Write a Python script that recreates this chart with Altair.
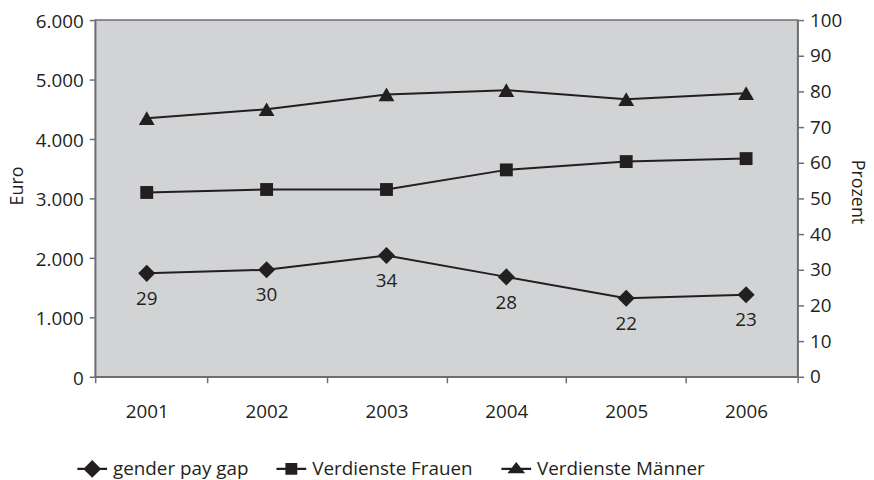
import altair as alt
import pandas as pd

# ---- data ----
years = [2001, 2002, 2003, 2004, 2005, 2006]
gap_pct = [29, 30, 34, 28, 22, 23]                     # gender pay gap, Prozent (right axis)
frauen = [3100, 3150, 3150, 3480, 3620, 3670]          # Verdienste Frauen, Euro
maenner = [4350, 4500, 4750, 4820, 4670, 4770]         # Verdienste Männer, Euro
series_names = ["gender pay gap", "Verdienste Frauen", "Verdienste Männer"]
euro_ticks = [0, 1000, 2000, 3000, 4000, 5000, 6000]
pct_ticks = [0, 10, 20, 30, 40, 50, 60, 70, 80, 90, 100]
x_domain = [2000.57, 2006.43]
x_tick_marks = [2000.57, 2001.5, 2002.5, 2003.5, 2004.5, 2005.5, 2006.43]

df = pd.DataFrame({
    "year": years * 3,
    "series": [s for s in series_names for _ in years],
    "value": gap_pct + frauen + maenner,
})

INK = "#231f20"
AX = "#6d6e71"
FONT = "Open Sans"
FS = 19
TFS = 18

# legend symbols: a short bar (the line) with the marker on it
BAR = "M-1,-0.07L1,-0.07L1,0.07L-1,0.07Z"
legend_paths = [
    BAR + "M0,-0.6L0.6,0L0,0.6L-0.6,0Z",
    BAR + "M-0.4,-0.4L0.4,-0.4L0.4,0.4L-0.4,0.4Z",
    BAR + "M0,-0.47L0.6,0.3L-0.6,0.3Z",
]

xscale = alt.Scale(domain=x_domain, nice=False, zero=False)
X_main = alt.X("year:Q", scale=xscale, axis=alt.Axis(
    orient="bottom", values=years, format="d", ticks=False, labelPadding=26, grid=False,
    title=None, domainColor=AX, domainWidth=1.5, labelFontSize=FS, labelColor=INK,
    labelFont=FONT))
X_none = alt.X("year:Q", scale=xscale, axis=None)
X_ticks = alt.X("year:Q", scale=xscale, axis=alt.Axis(
    orient="bottom", values=x_tick_marks, labels=False, domain=False, ticks=True,
    tickSize=6, tickColor=AX, tickWidth=1.5, grid=False, title=None))

Y_euro = alt.Y("value:Q", scale=alt.Scale(domain=[0, 6000], nice=False), axis=alt.Axis(
    values=euro_ticks, labelExpr="replace(format(datum.value, ','), ',', '.')",
    title="Euro", titleFontWeight="normal", titleFontSize=TFS, titleFont=FONT, titleColor=INK,
    titlePadding=9, titleY=167, labelFontSize=FS, labelFont=FONT, labelColor=INK,
    labelPadding=6, labelOffset=1.5, tickSize=6, tickColor=AX, tickWidth=1.5,
    domainColor=AX, domainWidth=1.5, grid=False))
Y_pct = alt.Y("value:Q", scale=alt.Scale(domain=[0, 100], nice=False), axis=alt.Axis(
    orient="right", values=pct_ticks,
    title="Prozent", titleFontWeight="normal", titleFontSize=TFS, titleFont=FONT,
    titleColor=INK, titlePadding=6, titleY=173, labelFontSize=FS, labelFont=FONT,
    labelColor=INK, labelPadding=6, tickSize=6, tickColor=AX, tickWidth=1.5,
    domainColor=AX, domainWidth=1.5, grid=False))

base = alt.Chart(df)

euro_data = base.transform_filter(
    alt.FieldOneOfPredicate(field="series", oneOf=series_names[1:]))
euro_line = euro_data.mark_line(color=INK, strokeWidth=2).encode(
    x=X_main, y=Y_euro, detail="series:N")
pts_frauen = base.transform_filter(alt.datum.series == series_names[1]).mark_point(
    shape="square", filled=True, size=169, color=INK, opacity=1).encode(x=X_main, y=Y_euro)
pts_maenner = base.transform_filter(alt.datum.series == series_names[2]).mark_point(
    shape="triangle-up", filled=True, size=256, color=INK, opacity=1).encode(x=X_main, y=Y_euro)
euro_layer = alt.layer(euro_line, pts_frauen, pts_maenner)

gap_data = base.transform_filter(alt.datum.series == series_names[0])
gap_line = gap_data.mark_line(color=INK, strokeWidth=2).encode(x=X_none, y=Y_pct)
gap_pts = gap_data.mark_point(shape="diamond", filled=True, size=300, color=INK,
                              opacity=1).encode(x=X_none, y=Y_pct)
gap_txt = gap_data.mark_text(dy=26, fontSize=FS, font=FONT, color=INK).encode(
    x=X_none, y=Y_pct, text="value:Q")
gap_layer = alt.layer(gap_line, gap_pts, gap_txt)

legend_layer = base.transform_filter(alt.datum.year < 0).mark_point(
    filled=True, color=INK, opacity=1).encode(
    x=X_ticks,
    y=alt.Y("value:Q", axis=None),
    shape=alt.Shape("series:N", scale=alt.Scale(domain=series_names, range=legend_paths),
                    legend=alt.Legend(
                        orient="none", legendX=-18, legendY=438, direction="horizontal",
                        title=None, symbolSize=900, symbolFillColor=INK, symbolOpacity=1,
                        symbolStrokeWidth=0,
                        labelFontSize=FS, labelFont=FONT, labelColor=INK, labelLimit=400,
                        labelOffset=6, columnPadding=28)),
)

chart = alt.layer(euro_layer, gap_layer, legend_layer).resolve_scale(
    y="independent").resolve_axis(x="independent").properties(
    width=709, height=360,
    background="white",
    autosize=alt.AutoSizeParams(type="none"),
    padding={"left": 88, "top": 10, "right": 69, "bottom": 102},
).configure_view(fill="#d1d3d4", stroke=AX, strokeWidth=1.5)

chart.save("out.html", embed_options={"renderer": "svg", "actions": False})
